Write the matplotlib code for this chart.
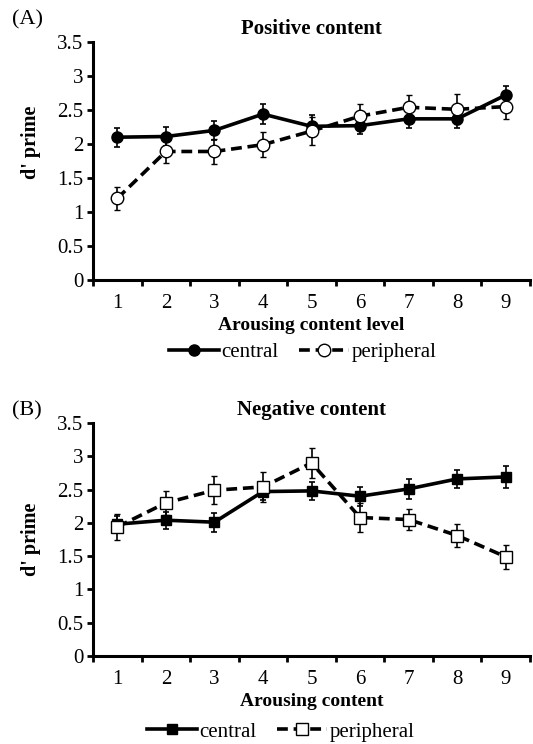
import matplotlib
matplotlib.use("Agg")
import matplotlib.pyplot as plt
from matplotlib.lines import Line2D
import numpy as np

plt.rcParams['font.family'] = ['Liberation Serif', 'DejaVu Serif']

levels = [1, 2, 3, 4, 5, 6, 7, 8, 9]

pos_central = [2.10, 2.11, 2.20, 2.44, 2.26, 2.27, 2.37, 2.37, 2.72]
pos_central_err = [0.14, 0.14, 0.14, 0.15, 0.16, 0.13, 0.13, 0.13, 0.14]
pos_periph = [1.20, 1.89, 1.89, 1.99, 2.19, 2.41, 2.54, 2.51, 2.55]
pos_periph_err = [0.17, 0.17, 0.18, 0.18, 0.21, 0.18, 0.18, 0.22, 0.18]

neg_central = [1.98, 2.04, 2.01, 2.47, 2.48, 2.40, 2.51, 2.66, 2.69]
neg_central_err = [0.13, 0.13, 0.14, 0.13, 0.13, 0.14, 0.15, 0.13, 0.17]
neg_periph = [1.94, 2.30, 2.49, 2.54, 2.90, 2.08, 2.05, 1.81, 1.49]
neg_periph_err = [0.19, 0.18, 0.21, 0.23, 0.23, 0.22, 0.16, 0.18, 0.18]

yticks = [0, 0.5, 1, 1.5, 2, 2.5, 3, 3.5]
ytick_labels = ['0', '0.5', '1', '1.5', '2', '2.5', '3', '3.5']

fig = plt.figure(figsize=(5.33, 7.44), dpi=100)
axA = fig.add_axes([93/533, 1 - 280/744, (530 - 93)/533, (280 - 42)/744])
axB = fig.add_axes([93/533, 1 - 656/744, (530 - 93)/533, (656 - 423)/744])

DASH = (0, (3, 1.6))


def draw(ax, c, ce, p, pe, marker, title, xlabel, panel, panel_y,
         leg_x, leg_y, ylab_y):
    ms_c = 8 if marker == 'o' else 7.5
    ms_p = 9 if marker == 'o' else 8
    ax.errorbar(levels, c, yerr=ce, color='black', lw=2.6, marker=marker,
                ms=ms_c, mfc='black', mec='black',
                ecolor='black', elinewidth=1.2, capsize=2.5, capthick=1.2,
                zorder=3)
    ax.errorbar(levels, p, yerr=pe, color='black', lw=2.6, ls=DASH,
                marker=marker, ms=ms_p, mfc='white',
                mec='black', mew=1.0, ecolor='black', elinewidth=1.2,
                capsize=2.5, capthick=1.2, zorder=4)
    ax.set_xlim(0.5, 9.5)
    ax.set_ylim(0, 3.5)
    ax.set_yticks(yticks)
    ax.set_yticklabels(ytick_labels, fontsize=15)
    ax.set_xticks(levels)
    ax.set_xticklabels([str(v) for v in levels], fontsize=15)
    ax.set_xticks(np.arange(0.5, 10, 1), minor=True)
    ax.tick_params(axis='x', which='major', length=0, pad=10)
    ax.tick_params(axis='x', which='minor', length=4, width=2, direction='out')
    ax.tick_params(axis='y', which='major', length=4, width=2, direction='out', pad=3)
    for s in ['top', 'right']:
        ax.spines[s].set_visible(False)
    for s in ['left', 'bottom']:
        ax.spines[s].set_linewidth(2.2)
    ax.set_ylabel("d' prime", fontsize=14.5, fontweight='bold')
    ax.yaxis.set_label_coords(-0.12, ylab_y)
    ax.set_xlabel(xlabel, fontsize=14, fontweight='bold', labelpad=3)
    ax.set_title(title, fontsize=15, fontweight='bold', pad=6)
    fig.text(12/533, panel_y, panel, fontsize=16, ha='left', va='center')
    h_c = Line2D([], [], color='black', lw=2.6, marker=marker, ms=ms_c,
                 mfc='black', mec='black')
    h_p = Line2D([], [], color='black', lw=2.6, ls=DASH, marker=marker,
                 ms=ms_p, mfc='white', mec='black', mew=1.0)
    ax.legend([h_c, h_p], ['central', 'peripheral'], loc='center',
              bbox_to_anchor=(leg_x, leg_y), ncol=2, frameon=False,
              fontsize=15, handlelength=2.4, columnspacing=1.0,
              handletextpad=0.1)


draw(axA, pos_central, pos_central_err, pos_periph, pos_periph_err, 'o',
     'Positive content', 'Arousing content level', '(A)', 1 - 20/744,
     0.48, -0.305, 0.58)
draw(axB, neg_central, neg_central_err, neg_periph, neg_periph_err, 's',
     'Negative content', 'Arousing content', '(B)', 1 - 411/744,
     0.43, -0.325, 0.5)

fig.savefig('out.png', dpi=100)
